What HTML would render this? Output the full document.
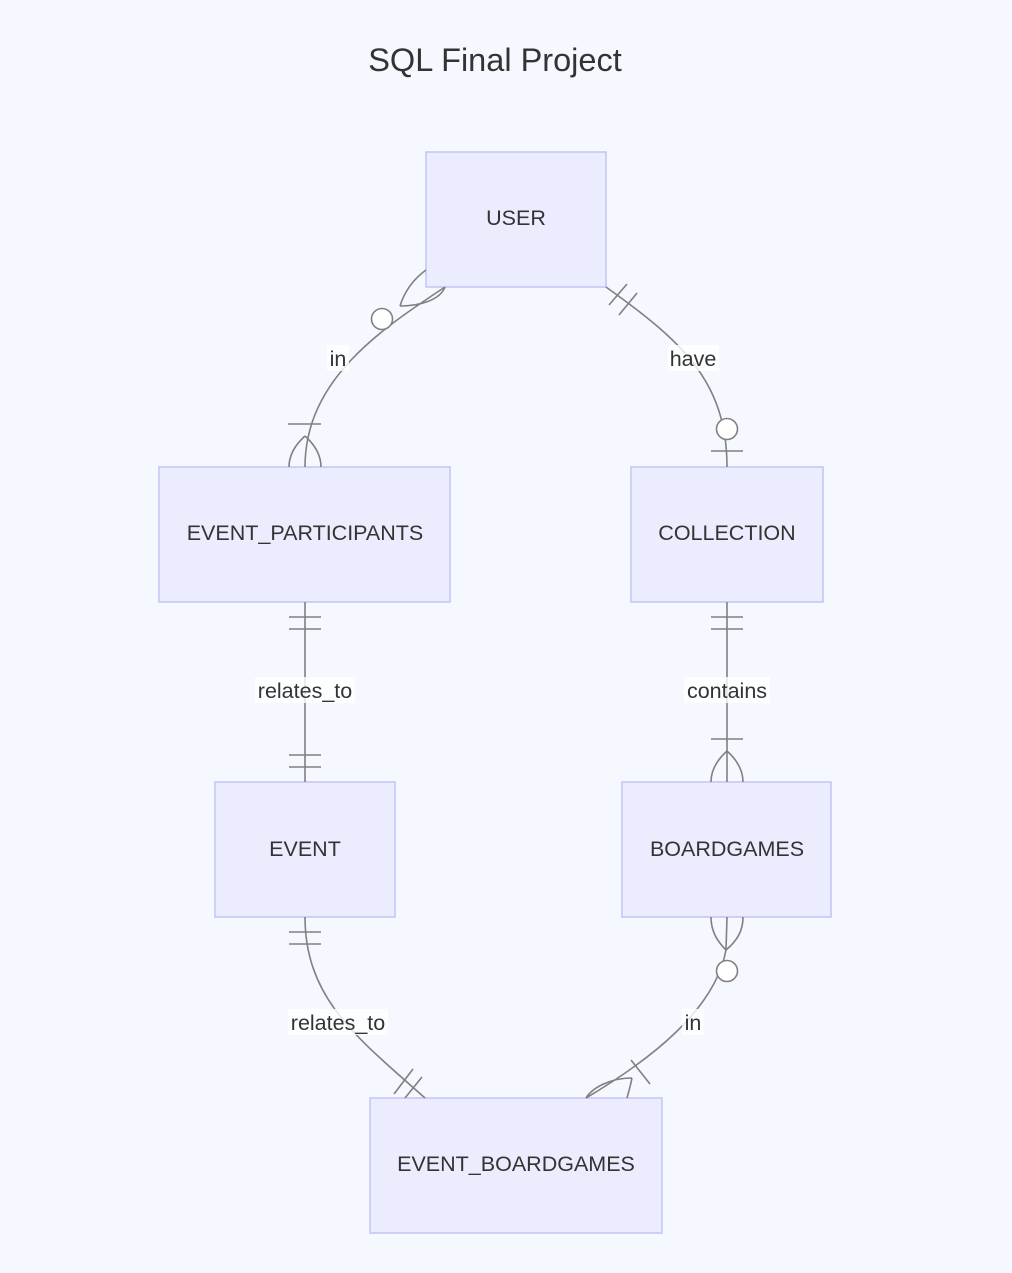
<!DOCTYPE html>
<html><head><style>
body{margin:0;background:#f5f8ff;}
svg{display:block;font-family:"Liberation Sans",Arial,sans-serif;}
</style></head><body>
<svg width="1012" height="1273" viewBox="0 0 1012 1273">
<rect width="1012" height="1273" fill="#f5f8ff"/>
<text x="495" y="71" font-size="32.5" text-anchor="middle" fill="#333">SQL Final Project</text>
<g fill="#ececff" stroke="#c3c3f7" stroke-width="1.5">
<rect x="426" y="152" width="180" height="135"/>
<rect x="159" y="467" width="291" height="135"/>
<rect x="631" y="467" width="192" height="135"/>
<rect x="215" y="782" width="180" height="135"/>
<rect x="622" y="782" width="209" height="135"/>
<rect x="370" y="1098" width="292" height="135"/>
</g>
<g font-size="21.5" fill="#333" text-anchor="middle">
<text x="516" y="225">USER</text>
<text x="305" y="540">EVENT_PARTICIPANTS</text>
<text x="727" y="540">COLLECTION</text>
<text x="305" y="856">EVENT</text>
<text x="727" y="856">BOARDGAMES</text>
<text x="516" y="1171">EVENT_BOARDGAMES</text>
</g>
<g fill="none" stroke="#808080" stroke-width="1.6">
<path d="M445,287 C380,330 305,380 305,467"/>
<path d="M400,306 C405,290 415,278 426,270"/>
<path d="M400,306 C420,306 440,300 445,287"/>
<path d="M288,424 H321"/>
<path d="M305,436 C295,445 289,455 289,467"/>
<path d="M305,436 C315,445 321,455 321,467"/>
<path d="M606,287 C680,340 727,380 727,467"/>
<path d="M609,305 L627,284 M619,315 L637,293"/>
<path d="M711,451 H743"/>
<path d="M305,602 V782 M289,617 H321 M289,629 H321 M289,755 H321 M289,767 H321"/>
<path d="M727,602 V782 M711,617 H743 M711,629 H743 M711,739 H743"/>
<path d="M727,751 C717,760 711,770 711,782 M727,751 C737,760 743,770 743,782"/>
<path d="M305,917 C305,1000 360,1040 425,1098"/>
<path d="M289,932 H321 M289,944 H321"/>
<path d="M394,1094 L413,1069 M405,1098 L422,1077"/>
<path d="M727,917 L726,950 C715,1010 650,1060 586,1098"/>
<path d="M726,950 C716,940 711,930 711,917 M726,950 C738,940 743,930 743,917"/>
<path d="M631,1060 L650,1084"/>
<path d="M632,1078 C610,1078 592,1088 586,1098 M632,1078 C630,1088 628,1094 627,1098"/>
</g>
<g fill="#fff" stroke="#808080" stroke-width="1.6">
<circle cx="382" cy="319" r="10.5"/>
<circle cx="727" cy="429" r="10.5"/>
<circle cx="727" cy="971" r="10.5"/>
</g>
<g font-size="21.5" fill="#333" text-anchor="middle">
<rect x="327" y="345" width="22" height="26" fill="#fff" opacity=".8"/><text x="338" y="366">in</text>
<rect x="668" y="345" width="51" height="26" fill="#fff" opacity=".8"/><text x="693" y="366">have</text>
<rect x="255" y="677" width="100" height="26" fill="#fff" opacity=".8"/><text x="305" y="698">relates_to</text>
<rect x="684" y="677" width="86" height="26" fill="#fff" opacity=".8"/><text x="727" y="698">contains</text>
<rect x="288" y="1009" width="100" height="26" fill="#fff" opacity=".8"/><text x="338" y="1030">relates_to</text>
<rect x="682" y="1009" width="22" height="26" fill="#fff" opacity=".8"/><text x="693" y="1030">in</text>
</g>
</svg>
</body></html>
